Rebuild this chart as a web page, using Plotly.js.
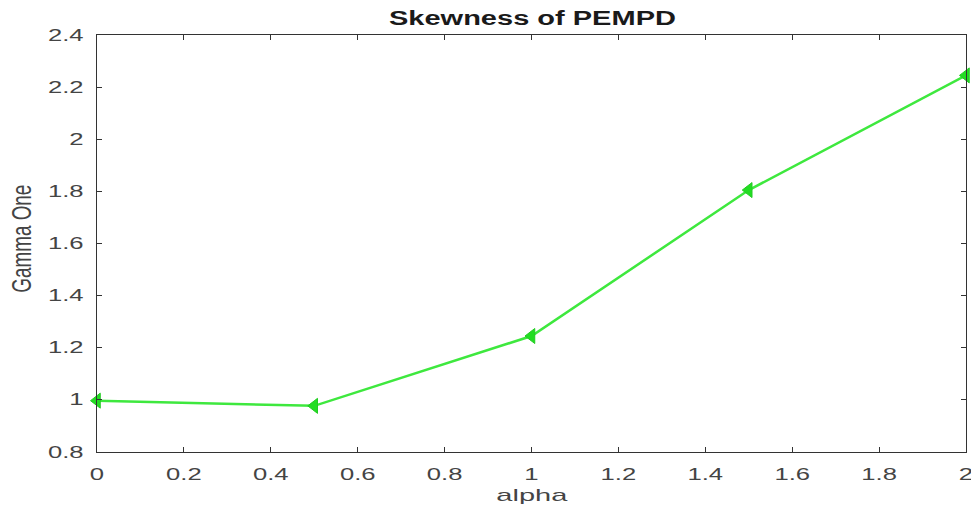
<!DOCTYPE html>
<html>
<head>
<meta charset="utf-8">
<script src="https://cdn.plot.ly/plotly-3.0.1.min.js"></script>
<style>html,body{margin:0;padding:0;background:#fff;}#chart{width:971px;height:507px;}</style>
</head>
<body>
<div id="chart"></div>
<script>
const alpha = [0, 0.5, 1, 1.5, 2];
const gammaOne = [0.997, 0.977, 1.245, 1.805, 2.245];
const xTicks = [0, 0.2, 0.4, 0.6, 0.8, 1, 1.2, 1.4, 1.6, 1.8, 2];
const yTicks = [0.8, 1, 1.2, 1.4, 1.6, 1.8, 2, 2.2, 2.4];
const titleText = "Skewness of PEMPD";
const xLabel = "alpha";
const yLabel = "Gamma One";

const FONT = "Liberation Sans, Arial, sans-serif";
const trace = {
  x: alpha, y: gammaOne, type: "scatter", mode: "lines+markers",
  line: {color: "#3ee83e", width: 2.5},
  marker: {symbol: "triangle-left", size: 13, color: "#22dd22", line: {color: "#22cc22", width: 1}},
  cliponaxis: false
};
const axisCommon = {
  showgrid: false, zeroline: false, showline: true, mirror: "ticks",
  linecolor: "#333", linewidth: 1.2, ticks: "inside", ticklen: 5, tickcolor: "#333",
  tickfont: {family: FONT, size: 16, color: "#444"}
};
const layout = {
  width: 971, height: 507,
  margin: {l: 97, r: 5, t: 35, b: 55},
  paper_bgcolor: "#fff", plot_bgcolor: "#fff",
  showlegend: false,
  xaxis: Object.assign({}, axisCommon, {range: [0, 2], tickvals: xTicks, ticktext: xTicks.map(String), ticklabelstandoff: 8}),
  yaxis: Object.assign({}, axisCommon, {range: [0.8, 2.4], tickvals: yTicks, ticktext: yTicks.map(String), ticklabelstandoff: 9}),
  annotations: [
    {text: "<b>" + titleText + "</b>", xref: "paper", yref: "paper", x: 0.5017, y: 1.04, xanchor: "center", yanchor: "middle",
     showarrow: false, font: {family: FONT, size: 19.5, color: "#1a1a1a"}},
    {text: xLabel, xref: "paper", yref: "paper", x: 0.5006, y: -0.1055, xanchor: "center", yanchor: "middle",
     showarrow: false, font: {family: FONT, size: 17, color: "#444"}},
    {text: yLabel, xref: "paper", yref: "paper", x: -0.0863, y: 0.511, xanchor: "center", yanchor: "middle", textangle: -90,
     showarrow: false, font: {family: FONT, size: 27, color: "#444"}}
  ]
};
const targetWidths = [287, 71, 108];
Plotly.newPlot("chart", [trace], layout, {displayModeBar: false, staticPlot: true}).then(function (gd) {
  const stretch = function (el, w) {
    el.setAttribute("textLength", w.toFixed(1));
    el.setAttribute("lengthAdjust", "spacingAndGlyphs");
  };
  gd.querySelectorAll(".xtick text, .ytick text").forEach(function (el) {
    stretch(el, el.getComputedTextLength() * 1.6);
  });
  gd.querySelectorAll(".annotation-text").forEach(function (el, i) {
    if (targetWidths[i]) stretch(el, targetWidths[i]);
  });
});
</script>
</body>
</html>
